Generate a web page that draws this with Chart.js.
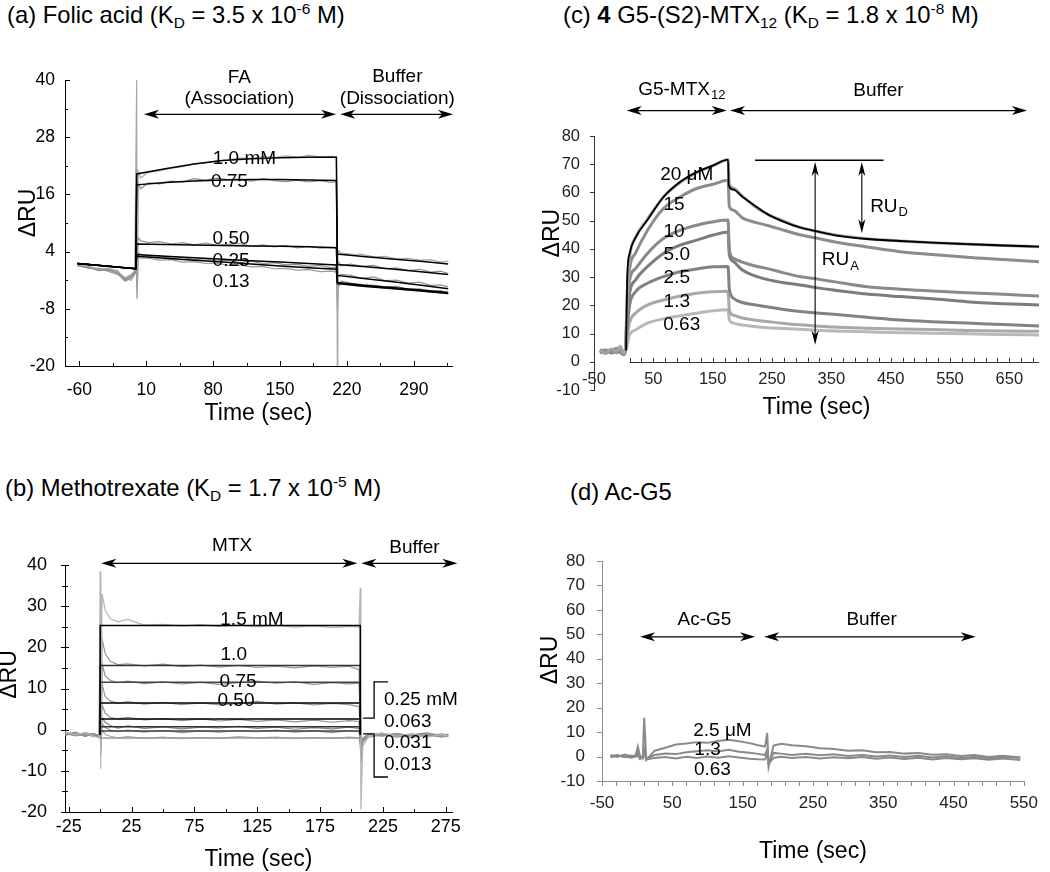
<!DOCTYPE html>
<html>
<head>
<meta charset="utf-8">
<script src="https://cdn.jsdelivr.net/npm/chart.js@4.4.0/dist/chart.umd.min.js"></script>
<style>
  body { margin: 0; background: #fff; width: 1050px; height: 872px; overflow: hidden; position: relative;
         font-family: Arial, "Liberation Sans", sans-serif; }
  canvas { position: absolute; }
  .ttl { position: absolute; font-size: 23.8px; line-height: 26px; white-space: nowrap; color: #000; }
  .ttl sub, .ttl sup { font-size: 65%; line-height: 0; }
  .ttl sub { vertical-align: -0.3em; }
  .ttl sup { vertical-align: 0.6em; }
</style>
</head>
<body>
<div class="ttl" style="left:7px;top:2px">(a) Folic acid (K<sub>D</sub> = 3.5 x 10<sup>-6</sup> M)</div>
<div class="ttl" style="left:5px;top:475px">(b) Methotrexate (K<sub>D</sub> = 1.7 x 10<sup>-5</sup> M)</div>
<div class="ttl" style="left:563px;top:2px">(c) <b>4</b> G5-(S2)-MTX<sub>12</sub> (K<sub>D</sub> = 1.8 x 10<sup>-8</sup> M)</div>
<div class="ttl" style="left:570px;top:479px">(d) Ac-G5</div>

<canvas id="cA" width="480" height="400" style="left:0;top:30px"></canvas>
<canvas id="cB" width="480" height="372" style="left:0;top:500px"></canvas>
<canvas id="cC" width="530" height="400" style="left:520px;top:30px"></canvas>
<canvas id="cD" width="530" height="372" style="left:520px;top:500px"></canvas>

<script>
// ---------- (a) Folic acid ----------
const faTime = [-62, -50, -40, -30, -20, -12, -6, -2, 0, 0.5, 1.5, 4, 12, 24, 36, 48, 60, 72, 84, 96, 108, 120, 132, 144, 156, 168, 180, 192, 204, 209, 210, 210.5, 211.5, 214, 224, 236, 248, 260, 272, 284, 296, 308, 318, 326];
const faRaw100 = [1.2, 0.9, 0.3, 0.6, -0.2, -1.5, -0.8, 0.0, 40, -5.5, 20.8, 19.5, 20.6, 21.0, 21.5, 21.8, 22.4, 22.6, 23.1, 23.2, 23.6, 23.5, 24.0, 23.7, 24.1, 23.8, 24.2, 23.9, 24.0, 23.9, -20, 3.0, 4.2, 3.7, 3.5, 3.4, 2.9, 3.0, 2.5, 2.6, 2.2, 2.3, 1.8, 2.0];
const faRaw075 = [1.0, 0.6, 0.5, 0.1, 0.0, -2.0, -1.2, -0.4, 8, -3, 18.5, 17.2, 18.4, 18.2, 18.8, 18.6, 19.3, 19.0, 19.4, 19.1, 19.2, 18.8, 19.3, 18.9, 18.7, 19.0, 18.6, 18.9, 18.5, 18.7, -4, 1.2, 1.8, 1.0, 1.4, 0.9, 1.1, 0.4, 0.6, 0.0, 0.3, -0.3, -0.1, -0.6];
const faRaw050 = [1.4, 0.8, 0.2, 0.4, -0.4, -1.8, -1.0, -0.2, 3, -2, 7.0, 6.3, 5.9, 6.1, 5.6, 5.9, 5.4, 5.8, 5.3, 5.5, 5.7, 5.1, 5.4, 5.0, 5.3, 4.8, 5.1, 4.7, 4.9, 4.8, -3, -0.6, -1.2, -0.8, -1.0, -1.6, -1.3, -2.1, -2.0, -2.6, -2.4, -3.1, -3.0, -3.4];
const faRaw025 = [1.1, 0.7, 0.0, 0.2, -0.6, -2.2, -1.5, -0.5, 1, -4, 3.8, 3.4, 3.0, 3.1, 2.6, 2.8, 2.3, 2.5, 2.0, 2.2, 1.7, 2.0, 1.5, 1.7, 1.2, 1.3, 0.9, 1.1, 0.6, 0.8, -8, -2.0, -2.8, -2.2, -2.6, -2.9, -3.1, -3.4, -3.3, -3.9, -3.8, -4.3, -4.2, -4.6];
const faRaw013 = [1.3, 0.5, 0.4, -0.1, -0.8, -1.6, -2.0, -0.8, 0, -6, 3.0, 2.6, 2.6, 2.2, 2.3, 1.8, 1.9, 1.5, 1.6, 1.1, 1.2, 0.8, 0.9, 0.4, 0.5, 0.1, 0.2, -0.2, -0.1, -0.3, -6, -2.5, -3.2, -2.6, -3.0, -3.3, -3.4, -3.7, -3.8, -4.1, -4.2, -4.5, -4.6, -4.9];
const faFitTime = [-62, -1, 0, 30, 60, 90, 120, 150, 180, 209, 210, 240, 270, 300, 326];
const faFit100 = [1.5, 0.4, 20.3, 21.4, 22.4, 23.1, 23.5, 23.7, 23.8, 23.8, 3.5, 2.9, 2.4, 1.9, 1.4];
const faFit075 = [1.5, 0.4, 18.0, 18.5, 18.8, 19.0, 19.1, 19.1, 19.0, 18.9, 1.3, 0.8, 0.3, -0.3, -0.8];
const faFit050 = [1.5, 0.4, 5.6, 5.5, 5.4, 5.3, 5.2, 5.1, 5.0, 4.8, -1.0, -1.7, -2.4, -3.1, -3.8];
const faFit025 = [1.5, 0.4, 3.4, 3.0, 2.7, 2.4, 2.1, 1.8, 1.5, 1.2, -2.5, -3.1, -3.6, -4.1, -4.6];
const faFit013 = [1.5, 0.4, 3.0, 2.6, 2.2, 1.8, 1.4, 1.0, 0.6, 0.3, -2.7, -3.3, -3.8, -4.3, -4.8];
const faConc = ['1.0 mM', '0.75', '0.50', '0.25', '0.13'];
const faTicksX = [-60, 10, 80, 150, 220, 290];
const faMinorX = [-25, 45, 115, 185, 255, 325];
const faTicksY = [-20, -8, 4, 16, 28, 40];
const faMinorY = [-14, -2, 10, 22, 34];

// ---------- (b) Methotrexate ----------
const mtxTime = [-28, -20, -12, -5, -1, 0, 0.5, 1.5, 4, 8, 14, 22, 35, 50, 65, 80, 95, 110, 125, 140, 155, 170, 185, 198, 206, 207, 207.5, 209, 214, 224, 236, 248, 260, 272, 277];
const mtxRaw150 = [-0.5, -1.2, -0.8, -1.6, -2.0, 38.5, -9.5, 33, 29, 27, 26.2, 26.8, 25.4, 25.6, 25.2, 25.5, 25.1, 25.4, 25.0, 25.3, 24.9, 25.2, 24.8, 25.1, 24.9, 34.5, -19.4, -4, -1.5, -0.8, -1.6, -1.0, -1.8, -1.2, -1.5];
const mtxRaw100 = [-1.0, -0.6, -1.4, -1.1, -1.8, 12, -6, 22, 18.5, 16.6, 15.8, 16.0, 15.5, 15.9, 15.3, 15.7, 15.2, 15.6, 15.1, 15.4, 15.0, 15.5, 15.1, 15.4, 14.6, 5, -8, -3, -1.2, -1.6, -0.9, -1.5, -1.1, -1.7, -1.3];
const mtxRaw075 = [-1.3, -0.9, -1.0, -1.5, -1.4, 8, -4, 16, 13, 12, 11.4, 11.8, 11.2, 11.6, 11.1, 11.5, 11.0, 11.4, 11.8, 11.3, 11.6, 11.0, 11.4, 11.1, 11.3, 2, -6, -2.5, -1.4, -1.0, -1.8, -1.2, -0.8, -1.5, -1.1];
const mtxRaw050 = [-0.8, -1.5, -1.2, -0.9, -1.6, 5, -3, 11, 8, 7.0, 6.4, 6.8, 6.2, 6.6, 6.1, 6.5, 6.0, 6.4, 6.9, 6.2, 6.5, 6.0, 6.4, 6.1, 5.6, 0, -5, -2, -1.0, -1.5, -1.2, -1.8, -1.0, -1.3, -1.6];
const mtxRaw025 = [-1.1, -1.3, -0.7, -1.2, -1.5, 2, -2, 6, 4, 3.0, 2.6, 3.0, 2.4, 2.7, 2.2, 2.6, 2.1, 2.5, 2.0, 2.4, 1.9, 2.3, 1.8, 2.2, 2.0, -1, -4, -2, -1.3, -0.9, -1.4, -1.1, -1.6, -1.0, -1.4];
const mtxRaw063 = [-1.4, -0.8, -1.6, -1.0, -1.3, 1, -3, 3, 1.8, 1.0, 0.4, 0.9, 0.3, 0.7, 0.2, 0.6, 0.4, 0.8, 0.3, 0.6, 0.1, 0.5, 0.2, 0.6, 0.3, -2, -5, -2.2, -1.1, -1.4, -1.0, -1.5, -1.2, -1.6, -1.2];
const mtxRaw031 = [-0.9, -1.4, -1.1, -1.7, -1.2, 0, -4, 1.5, 0.5, -0.1, -0.5, -0.1, -0.6, -0.2, -0.7, -0.3, -0.6, -0.2, -0.5, -0.1, -0.6, -0.3, -0.7, -0.2, -0.5, -3, -6, -2.5, -1.5, -1.2, -1.7, -1.3, -1.0, -1.4, -1.7];
const mtxRaw013 = [-1.2, -1.0, -1.5, -1.3, -1.9, -1, -5, 0, -1.2, -1.6, -2.0, -1.7, -2.1, -1.8, -2.2, -1.9, -2.1, -1.7, -2.0, -1.8, -2.2, -1.9, -2.1, -1.8, -2.0, -4, -7, -3, -1.8, -1.3, -1.6, -1.9, -1.4, -1.8, -1.5];
const mtxFitTime = [0, 0, 207, 207];
const mtxBase = -1.2;
const mtxLevels = [25.3, 15.6, 11.5, 6.5, 2.6, 0.7, -0.3, -2.0];
const mtxTicksX = [-25, 25, 75, 125, 175, 225, 275];
const mtxMinorX = [0, 50, 100, 150, 200, 250];
const mtxTicksY = [-20, -10, 0, 10, 20, 30, 40];
const mtxMinorY = [-15, -5, 5, 15, 25, 35];

// ---------- (c) G5-(S2)-MTX12 ----------
const g5Time = [-40, -30, -20, -12, -6, 0, 3, 6, 10, 20, 40, 67, 95, 123, 151, 176, 178, 185, 200, 220, 241, 270, 297, 330, 354, 410, 466, 520, 578, 640, 700];
const g5_20 = [4.0, 3.2, 4.5, 3.6, 5.5, 3.0, 4.5, 25, 37, 44, 50.5, 58.3, 63.5, 67.0, 69.5, 71.6, 63.0, 61.5, 58.7, 55.2, 52.4, 49.8, 47.6, 46.0, 45.0, 43.6, 42.8, 42.2, 41.7, 41.2, 40.8];
const g5_15 = [3.5, 4.2, 3.0, 4.8, 4.0, 2.5, 4.0, 22, 33, 38.5, 46.5, 54.3, 58.4, 61.4, 62.9, 64.3, 55.0, 53.7, 51.0, 49.5, 48.4, 46.6, 45.0, 43.6, 42.5, 40.7, 39.0, 38.0, 37.0, 36.2, 35.4];
const g5_10 = [3.8, 3.0, 4.2, 3.3, 5.0, 2.8, 4.2, 18, 29, 33, 38.4, 43.7, 46.6, 48.4, 49.6, 50.2, 40.0, 36.7, 35.3, 34.0, 33.1, 31.5, 30.2, 29.2, 28.4, 26.6, 25.7, 25.1, 24.5, 23.9, 23.3];
const g5_5 = [3.2, 3.9, 3.4, 4.4, 3.6, 3.1, 3.8, 15, 24.3, 29, 33.7, 38.4, 41.3, 43.1, 44.9, 46.0, 38.0, 35.5, 32.5, 30.5, 29.2, 28.0, 27.2, 26.1, 25.4, 24.0, 23.1, 22.3, 21.3, 20.6, 20.1];
const g5_25 = [4.2, 3.5, 3.9, 4.6, 3.3, 2.7, 4.0, 12, 20, 24.8, 27.8, 30.2, 31.9, 32.9, 33.7, 33.8, 26.0, 22.5, 21.0, 20.2, 19.5, 18.5, 17.8, 17.2, 16.8, 15.8, 14.8, 14.2, 13.7, 13.2, 12.7];
const g5_13 = [3.6, 4.1, 3.2, 3.8, 4.9, 3.4, 3.7, 9, 14, 17.2, 20.1, 21.9, 23.3, 24.3, 24.8, 25.0, 18.5, 16.5, 15.5, 14.8, 14.3, 13.6, 13.1, 12.6, 12.3, 11.9, 11.6, 11.4, 11.1, 10.9, 10.8];
const g5_063 = [3.9, 3.3, 4.4, 3.1, 4.2, 3.6, 3.5, 6, 9.5, 11.3, 13.7, 15.2, 16.3, 17.2, 18.1, 18.4, 15.0, 13.7, 13.0, 12.5, 12.1, 11.8, 11.5, 11.1, 10.9, 10.6, 10.3, 10.1, 9.9, 9.7, 9.5];
const g5FitTime = [4, 6, 10, 20, 40, 67, 95, 123, 151, 176, 177, 185, 200, 220, 241, 270, 297, 330, 354, 410, 466, 520, 578, 640, 700];
const g5Fit20 = [4, 30, 38.4, 44, 50.2, 58.4, 63.7, 67.2, 69.6, 71.6, 62.6, 61.0, 58.5, 55.5, 52.5, 49.6, 47.6, 46.0, 44.9, 43.5, 42.8, 42.2, 41.7, 41.2, 40.8];
const g5Conc = ['20 μM', '15', '10', '5.0', '2.5', '1.3', '0.63'];
const g5TicksX = [-50, 50, 150, 250, 350, 450, 550, 650];
const g5TicksY = [-10, 0, 10, 20, 30, 40, 50, 60, 70, 80];

// ---------- (d) Ac-G5 ----------
const acTime = [-38, -28, -18, -8, -2, 1, 4, 8, 10, 13, 25, 40, 55, 70, 85, 100, 115, 130, 145, 160, 172, 182, 185, 187, 194, 205, 220, 240, 260, 280, 300, 320, 340, 360, 380, 400, 420, 440, 460, 480, 500, 520, 545];
const ac25 = [0.5, -0.2, 0.8, 0.1, 0.6, 4.1, 0.2, -0.8, 15.9, -1.4, 2.4, 3.6, 4.9, 5.3, 5.9, 5.6, 6.4, 6.9, 6.3, 5.5, 4.6, 4.1, 9.7, -4.1, 4.5, 5.2, 4.6, 4.2, 3.4, 3.1, 2.4, 2.6, 1.8, 1.9, 1.2, 1.5, 0.7, 0.9, 0.2, 0.6, -0.2, 0.3, -0.4];
const ac13 = [0.2, 0.6, -0.3, 0.4, -0.1, 1.5, -0.5, 0.3, 3.0, -0.8, 0.6, 1.2, 1.0, 1.8, 2.2, 2.6, 2.1, 2.8, 2.0, 1.6, 1.1, 0.6, 3.0, -2.5, 1.5, 1.2, 0.6, 1.1, 0.5, 0.9, 0.2, 0.6, 0.0, 0.4, -0.2, 0.3, -0.4, 0.1, -0.6, -0.1, -0.7, -0.2, -0.5];
const ac063 = [-0.3, 0.3, 0.0, -0.5, 0.2, 0.5, -1.0, -0.2, 1.0, -1.2, -0.6, -0.2, -0.8, -0.1, -0.6, 0.0, -0.5, 0.1, -0.4, -0.9, -1.1, -1.2, 1.0, -3.0, -0.5, -0.1, -0.6, -0.2, -0.8, -0.3, -0.7, -0.2, -0.9, -0.4, -1.0, -0.5, -1.2, -0.6, -1.1, -0.7, -1.3, -0.8, -1.4];
const acConc = ['2.5 μM', '1.3', '0.63'];
const acTicksX = [-50, 50, 150, 250, 350, 450, 550];
const acTicksY = [-10, 0, 10, 20, 30, 40, 50, 60, 70, 80];

// ---------- helpers ----------
const FONT = 'Arial, "Liberation Sans", sans-serif';
Chart.defaults.font.family = FONT;

function pts(xs, ys) { return xs.map((x, i) => ({ x: x, y: ys[i] })); }
// tick-mark positions only (axis decoration)
function steps(a, b, s) { const r = []; for (let v = a; v <= b + 1e-9; v += s) r.push(v); return r; }

function line(xs, ys, color, width, order, smooth) {
  return {
    data: pts(xs, ys), borderColor: color, borderWidth: width, order: order,
    pointRadius: 0, fill: false, cubicInterpolationMode: smooth ? 'monotone' : 'default'
  };
}

function drawArrow(ctx, x1, y1, x2, y2, L, W, lw) {
  const ang = Math.atan2(y2 - y1, x2 - x1);
  const c = Math.cos(ang), s = Math.sin(ang);
  ctx.lineWidth = lw;
  ctx.beginPath();
  ctx.moveTo(x1 + c * L * 0.6, y1 + s * L * 0.6);
  ctx.lineTo(x2 - c * L * 0.6, y2 - s * L * 0.6);
  ctx.stroke();
  const head = (x, y, dx, dy) => {
    ctx.beginPath();
    ctx.moveTo(x, y);
    ctx.lineTo(x - dx * L - dy * W, y - dy * L + dx * W);
    ctx.lineTo(x - dx * L * 0.72, y - dy * L * 0.72);
    ctx.lineTo(x - dx * L + dy * W, y - dy * L - dx * W);
    ctx.closePath();
    ctx.fill();
  };
  head(x2, y2, c, s);
  head(x1, y1, -c, -s);
}

function drawLabel(ctx, t, x, y) {
  const size = t.size || 19;
  const main = size + 'px ' + FONT;
  const small = Math.round(size * 0.68) + 'px ' + FONT;
  ctx.save();
  ctx.fillStyle = '#000';
  ctx.textBaseline = 'middle';
  ctx.textAlign = 'left';
  ctx.translate(x, y);
  if (t.rot) ctx.rotate(-Math.PI / 2);
  ctx.font = main;
  const w1 = ctx.measureText(t.t).width;
  ctx.font = small;
  const w2 = t.sub ? ctx.measureText(t.sub).width + 1 : 0;
  const x0 = t.align === 'left' ? 0 : -(w1 + w2) / 2;
  ctx.font = main;
  ctx.fillText(t.t, x0, 0);
  if (t.sub) {
    ctx.font = small;
    ctx.fillText(t.sub, x0 + w1 + 1, size * 0.32);
  }
  ctx.restore();
}

// arrows, brackets, labels and tick marks, all placed in data units
function decorPlugin(spec) {
  return {
    id: 'decor',
    afterDraw(chart) {
      const ctx = chart.ctx;
      const area = chart.chartArea;
      const X = v => chart.scales.x.getPixelForValue(v);
      const Y = v => chart.scales.y.getPixelForValue(v);
      const axisY = spec.xAxisAt === undefined ? area.bottom : Y(spec.xAxisAt);
      ctx.save();
      ctx.strokeStyle = spec.axisColor || '#000';
      ctx.lineWidth = 1;
      if (spec.xLine) {
        ctx.beginPath();
        ctx.moveTo(X(spec.xLine[0]), Math.round(axisY) + 0.5);
        ctx.lineTo(X(spec.xLine[1]), Math.round(axisY) + 0.5);
        ctx.stroke();
      }
      (spec.xMarks || []).forEach(m => m.values.forEach(v => {
        const x = Math.round(X(v)) + 0.5;
        ctx.beginPath(); ctx.moveTo(x, axisY + m.from); ctx.lineTo(x, axisY + m.to); ctx.stroke();
      }));
      (spec.yMarks || []).forEach(m => m.values.forEach(v => {
        const y = Math.round(Y(v)) + 0.5;
        ctx.beginPath(); ctx.moveTo(area.left + m.from, y); ctx.lineTo(area.left + m.to, y); ctx.stroke();
      }));
      ctx.strokeStyle = '#000';
      ctx.fillStyle = '#000';
      (spec.lines || []).forEach(l => {
        ctx.lineWidth = 1.3;
        ctx.beginPath();
        l.forEach((p, i) => i ? ctx.lineTo(X(p[0]), Y(p[1])) : ctx.moveTo(X(p[0]), Y(p[1])));
        ctx.stroke();
      });
      (spec.arrows || []).forEach(a =>
        drawArrow(ctx, X(a.x1), Y(a.y1), X(a.x2), Y(a.y2), a.head || 15, a.wing || 4.5, a.lw || 1.3));
      (spec.texts || []).forEach(t => drawLabel(ctx, t, X(t.x), Y(t.y)));
      ctx.restore();
    }
  };
}

function makePanel(id, o) {
  return new Chart(document.getElementById(id), {
    type: 'line',
    data: { datasets: o.datasets },
    options: {
      responsive: false,
      animation: false,
      devicePixelRatio: 1,
      layout: { padding: o.padding },
      plugins: { legend: { display: false }, tooltip: { enabled: false } },
      elements: { point: { radius: 0 } },
      scales: {
        x: {
          type: 'linear', min: o.xMin, max: o.xMax,
          position: o.xPosition || 'bottom',
          grid: { display: false, drawTicks: false },
          border: { display: o.xBorder !== false, color: o.axisColor, width: 1 },
          ticks: { autoSkip: false, maxRotation: 0, padding: o.xPad, color: o.tickColor,
                   font: { size: o.tickSize }, callback: v => String(v) },
          title: { display: true, text: 'Time (sec)', color: '#000',
                   font: { size: 23, lineHeight: 1 }, padding: { top: 0, bottom: o.titlePad } },
          afterBuildTicks: s => { s.ticks = o.xTicks.map(v => ({ value: v })); },
          afterFit: s => { s.height = o.xH; }
        },
        y: {
          type: 'linear', min: o.yMin, max: o.yMax,
          grid: { display: false, drawTicks: false },
          border: { display: true, color: o.axisColor, width: 1 },
          ticks: { autoSkip: false, padding: o.yPad, color: o.tickColor,
                   font: { size: o.tickSize }, callback: v => String(v) },
          afterBuildTicks: s => { s.ticks = o.yTicks.map(v => ({ value: v })); },
          afterFit: s => { s.width = o.yW; }
        }
      }
    },
    plugins: [decorPlugin(o.decor)]
  });
}

// ---------- panel (a) ----------
const faRaw = [faRaw100, faRaw075, faRaw050, faRaw025, faRaw013];
const faFit = [faFit100, faFit075, faFit050, faFit025, faFit013];
const faRawColors = ['#a8a8a8', '#8e8e8e', '#959595', '#8c8c8c', '#9a9a9a'];
makePanel('cA', {
  datasets: faFit.map(f => line(faFitTime, f, '#000', 1.5, 0))
    .concat(faRaw.map((r, i) => line(faTime, r, faRawColors[i], 1.2, 1))),
  padding: { left: 0, top: 50, right: 28, bottom: 0 },
  xMin: -75, xMax: 330, yMin: -20, yMax: 40,
  xTicks: faTicksX, yTicks: faTicksY,
  yW: 65, xH: 64, xPad: 14, yPad: 10, titlePad: 5,
  tickSize: 17.5, tickColor: '#000', axisColor: '#000',
  decor: {
    axisColor: '#000',
    xMarks: [{ values: faTicksX, from: -5, to: 0 }, { values: faMinorX, from: -3, to: 0 }],
    yMarks: [{ values: faTicksY, from: 0, to: 5 }, { values: faMinorY, from: 0, to: 3 }],
    arrows: [
      { x1: 7.6, y1: 32.8, x2: 208.7, y2: 32.8 },
      { x1: 213, y1: 32.8, x2: 331, y2: 32.8 }
    ],
    texts: [
      { x: 107.5, y: 40.4, t: 'FA' }, { x: 107.5, y: 36.0, t: '(Association)' },
      { x: 272.8, y: 40.6, t: 'Buffer' }, { x: 272.8, y: 36.0, t: '(Dissociation)' },
      { x: 112.7, y: 23.4, t: faConc[0] }, { x: 97.1, y: 18.7, t: faConc[1] },
      { x: 98.8, y: 6.6, t: faConc[2] }, { x: 98.8, y: 2.0, t: faConc[3] },
      { x: 98.8, y: -2.3, t: faConc[4] },
      { x: -113, y: 12.1, t: 'ΔRU', size: 23, rot: true }
    ]
  }
});

// ---------- panel (b) ----------
const mtxRaw = [mtxRaw150, mtxRaw100, mtxRaw075, mtxRaw050, mtxRaw025, mtxRaw063, mtxRaw031, mtxRaw013];
const mtxRawColors = ['#b5b5b5', '#959595', '#8e8e8e', '#999999', '#929292', '#858585', '#979797', '#a8a8a8'];
const mtxFitColors = ['#000', '#333', '#444', '#000', '#000', '#333', '#444', '#999'];
makePanel('cB', {
  datasets: mtxLevels.map((L, i) => line(mtxFitTime, [mtxBase, L, L, mtxBase], mtxFitColors[i], 1.5, 0))
    .concat(mtxRaw.map((r, i) => line(mtxTime, r, mtxRawColors[i], 1.2, 1))),
  padding: { left: 0, top: 65, right: 28, bottom: 0 },
  xMin: -28, xMax: 280, yMin: -20, yMax: 40,
  xTicks: mtxTicksX, yTicks: mtxTicksY,
  yW: 65, xH: 60, xPad: 4, yPad: 18, titlePad: 1,
  tickSize: 18, tickColor: '#000', axisColor: '#000',
  decor: {
    axisColor: '#000',
    xMarks: [{ values: mtxTicksX, from: -5, to: 0 }, { values: mtxMinorX, from: -3, to: 0 }],
    yMarks: [{ values: mtxTicksY, from: -4, to: 4 }, { values: mtxMinorY, from: -3, to: 3 }],
    arrows: [
      { x1: 0.9, y1: 40.4, x2: 204.7, y2: 40.4 },
      { x1: 207.8, y1: 40.4, x2: 284.3, y2: 40.4 }
    ],
    lines: [
      [[229, 11.6], [218, 11.6], [218, 2.8], [209.2, 2.8]],
      [[209.2, -1.0], [218, -1.0], [218, -11.5], [229, -11.5]]
    ],
    texts: [
      { x: 105, y: 44.6, t: 'MTX' }, { x: 250.1, y: 44.2, t: 'Buffer' },
      { x: 120.8, y: 26.8, t: '1.5 mM' }, { x: 106.3, y: 18.2, t: '1.0' },
      { x: 109.7, y: 11.6, t: '0.75' }, { x: 108.1, y: 6.9, t: '0.50' },
      { x: 225.8, y: 7.3, t: '0.25 mM', align: 'left' }, { x: 225.8, y: 2.0, t: '0.063', align: 'left' },
      { x: 225.8, y: -3.3, t: '0.031', align: 'left' }, { x: 225.8, y: -8.5, t: '0.013', align: 'left' },
      { x: -71.7, y: 13.4, t: 'ΔRU', size: 23, rot: true }
    ]
  }
});

// ---------- panel (c) ----------
const g5Data = [g5_20, g5_15, g5_10, g5_5, g5_25, g5_13, g5_063];
const g5Colors = ['#a3a3a3', '#8c8c8c', '#8a8a8a', '#7c7c7c', '#828282', '#a8a8a8', '#b8b8b8'];
makePanel('cC', {
  datasets: [line(g5FitTime, g5Fit20, '#000', 1.8, 0, true)]
    .concat(g5Data.map((d, i) => line(g5Time, d, g5Colors[i], 3, 1, true))),
  padding: { left: 0, top: 106, right: 11, bottom: 40 },
  xMin: -50, xMax: 700, yMin: -10, yMax: 80,
  xPosition: { y: 0 }, xBorder: false,
  xTicks: g5TicksX, yTicks: g5TicksY,
  yW: 74, xH: 57, xPad: 8, yPad: 14, titlePad: 0,
  tickSize: 16.5, tickColor: '#222', axisColor: '#333',
  decor: {
    axisColor: '#333', xAxisAt: 0, xLine: [10, 700],
    xMarks: [{ values: steps(10, 690, 20), from: -4, to: 0 }],
    yMarks: [{ values: g5TicksY, from: -4, to: 0 }],
    arrows: [
      { x1: 5.1, y1: 89.0, x2: 173.8, y2: 89.0, lw: 1.2 },
      { x1: 179.3, y1: 89.0, x2: 679.7, y2: 89.0, lw: 1.2 },
      { x1: 322.7, y1: 70.8, x2: 322.7, y2: 6.0, head: 14, wing: 3.5, lw: 1.1 },
      { x1: 401.4, y1: 70.8, x2: 401.4, y2: 45.5, head: 14, wing: 3.5, lw: 1.1 }
    ],
    lines: [[[221.5, 71.4], [438, 71.4]]],
    texts: [
      { x: 97.9, y: 96.4, t: 'G5-MTX', sub: '12' }, { x: 429.4, y: 96.1, t: 'Buffer' },
      { x: 106.3, y: 66.1, t: g5Conc[0] }, { x: 84.9, y: 55.8, t: g5Conc[1] },
      { x: 84.9, y: 46.0, t: g5Conc[2] }, { x: 89.5, y: 37.8, t: g5Conc[3] },
      { x: 89.5, y: 29.6, t: g5Conc[4] }, { x: 89.5, y: 21.3, t: g5Conc[5] },
      { x: 97.9, y: 13.1, t: g5Conc[6] },
      { x: 415.4, y: 54.9, t: 'RU', sub: 'D', align: 'left' },
      { x: 334, y: 36.0, t: 'RU', sub: 'A', align: 'left' },
      { x: -119, y: 45.6, t: 'ΔRU', size: 23, rot: true }
    ]
  }
});

// ---------- panel (d) ----------
makePanel('cD', {
  datasets: [ac25, ac13, ac063].map(d => line(acTime, d, '#8a8a8a', 2, 1)),
  padding: { left: 0, top: 61, right: 23, bottom: 0 },
  xMin: -50, xMax: 550, yMin: -10, yMax: 80,
  xTicks: acTicksX, yTicks: acTicksY,
  yW: 82, xH: 91, xPad: 12, yPad: 17, titlePad: 9,
  tickSize: 17, tickColor: '#222', axisColor: '#8c8c8c',
  decor: {
    axisColor: '#8c8c8c',
    xMarks: [{ values: steps(-50, 550, 20), from: 0, to: 5 }],
    yMarks: [{ values: acTicksY, from: -5, to: 0 }],
    arrows: [
      { x1: 4.1, y1: 49.0, x2: 167.8, y2: 49.0 },
      { x1: 180.6, y1: 49.0, x2: 481.7, y2: 49.0 }
    ],
    texts: [
      { x: 95.8, y: 55.8, t: 'Ac-G5' }, { x: 333.5, y: 55.8, t: 'Buffer' },
      { x: 121.3, y: 10.6, t: acConc[0] }, { x: 100.1, y: 2.7, t: acConc[1] },
      { x: 107.1, y: -5.4, t: acConc[2] },
      { x: -123, y: 39.5, t: 'ΔRU', size: 23, rot: true }
    ]
  }
});
</script>
</body>
</html>
